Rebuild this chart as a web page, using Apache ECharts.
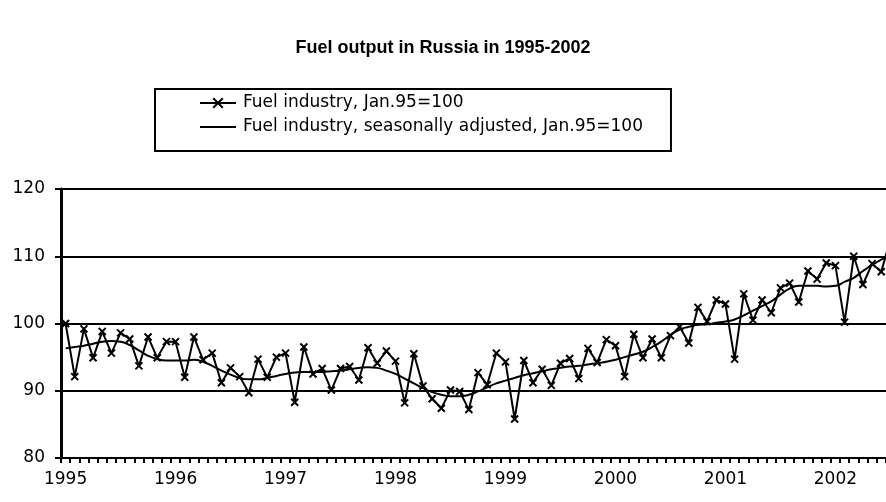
<!DOCTYPE html>
<html><head><meta charset="utf-8">
<script src="https://cdn.jsdelivr.net/npm/echarts@6/dist/echarts.min.js"></script>
<style>html,body{margin:0;padding:0;background:#fff}#c{width:886px;height:502px}</style>
</head><body><div id="c"></div>
<script>
const titleText = "Fuel output in Russia in 1995-2002";
const seriesNames = ["Fuel industry, Jan.95=100", "Fuel industry, seasonally adjusted, Jan.95=100"];
const startYear = 1995;
const monthCount = 91;
const yearLabels = ["1995","1996","1997","1998","1999","2000","2001","2002"];
const fuelIndex = [
 100.0, 92.1, 99.2, 94.9, 98.8, 95.6, 98.6, 97.7, 93.7, 98.0, 94.9, 97.3,
 97.3, 92.0, 98.0, 94.6, 95.6, 91.2, 93.4, 92.1, 89.7, 94.7, 92.0, 95.0,
 95.6, 88.3, 96.5, 92.5, 93.3, 90.1, 93.3, 93.6, 91.6, 96.4, 94.1, 95.9,
 94.4, 88.2, 95.5, 90.7, 88.8, 87.4, 90.1, 89.9, 87.2, 92.7, 90.9, 95.6,
 94.3, 85.8, 94.5, 91.2, 93.2, 90.8, 94.1, 94.8, 91.8, 96.3, 94.2, 97.6,
 96.7, 92.1, 98.4, 94.9, 97.7, 94.9, 98.2, 99.5, 97.1, 102.4, 100.3, 103.5,
 102.9, 94.7, 104.4, 100.5, 103.5, 101.6, 105.3, 106.0, 103.2, 107.8, 106.6, 109.0,
 108.6, 100.2, 110.0, 105.8, 108.9, 107.7, 112.5
];
const fuelAdjusted = [
 96.3, 96.5, 96.7, 97.0, 97.3, 97.4, 97.3, 96.8, 96.0, 95.2, 94.7, 94.5,
 94.5, 94.5, 94.6, 94.3, 93.7, 93.0, 92.4, 91.9, 91.7, 91.7, 91.9, 92.2,
 92.5, 92.7, 92.8, 92.8, 92.8, 92.9, 93.0, 93.2, 93.4, 93.5, 93.4, 93.0,
 92.5, 91.8, 91.1, 90.4, 89.8, 89.4, 89.2, 89.2, 89.4, 89.9, 90.5, 91.1,
 91.5, 91.9, 92.3, 92.6, 92.9, 93.2, 93.4, 93.6, 93.7, 93.9, 94.1, 94.3,
 94.6, 95.0, 95.4, 95.8, 96.5, 97.3, 98.3, 99.1, 99.5, 99.8, 99.9, 100.1,
 100.3, 100.6, 101.2, 101.9, 102.6, 103.3, 104.3, 105.2, 105.6, 105.6, 105.6, 105.5,
 105.6, 106.2, 106.8, 107.8, 108.7, 109.5, 110.2
];
const yMin = 80, yMax = 120, yStep = 10;

const categories = [];
for (let i = 0; i < monthCount; i++) {
  const y = startYear + Math.floor(i / 12), m = i % 12 + 1;
  categories.push(y + "-" + (m < 10 ? "0" + m : m));
}
const FONT = "DejaVu Sans";
const xPath = 'path://M0,0L10,10M10,0L0,10';
const chart = echarts.init(document.getElementById('c'), null, {renderer: 'canvas'});
chart.setOption({
  animation: false,
  backgroundColor: '#fff',
  title: {
    text: titleText, left: 'center', top: 34,
    textStyle: {fontFamily: 'Liberation Sans', fontWeight: 'bold', fontSize: 18, color: '#000'}
  },
  legend: {
    orient: 'vertical', left: 155, top: 89,
    borderColor: '#000', borderWidth: 2,
    padding: [4, 28, 14, 44],
    itemWidth: 36, itemHeight: 12, itemGap: 4,
    textStyle: {fontFamily: FONT, fontSize: 17, lineHeight: 20, color: '#000', padding: [0,0,0,2]},
    data: [
      {name: seriesNames[0]},
      {name: seriesNames[1], icon: 'path://M0,0L36,0L36,2L0,2Z', itemStyle: {color: '#000'}}
    ]
  },
  grid: {left: 61, top: 189, bottom: 44, width: 834, outerBoundsMode: 'none', containLabel: false},
  xAxis: {
    type: 'category', data: categories, boundaryGap: true,
    axisLine: {lineStyle: {color: '#000', width: 2}},
    axisTick: {show: true, interval: 0, length: 5, lineStyle: {color: '#000', width: 2}},
    axisLabel: {
      interval: 11, margin: 13, color: '#000', fontFamily: FONT, fontSize: 17,
      formatter: function (v) { return v.slice(5) === '01' ? yearLabels[+v.slice(0,4) - startYear] : ''; }
    },
    splitLine: {show: false}
  },
  yAxis: {
    type: 'value', min: yMin, max: yMax, interval: yStep,
    axisLine: {show: true, lineStyle: {color: '#000', width: 3}},
    axisTick: {show: true, length: 6, lineStyle: {color: '#000', width: 2}},
    axisLabel: {margin: 16, color: '#000', fontFamily: FONT, fontSize: 17},
    splitLine: {show: true, lineStyle: {color: '#000', width: 2}}
  },
  series: [
    {
      name: seriesNames[0], type: 'line', data: fuelIndex,
      symbol: xPath, symbolSize: 7, showSymbol: true, showAllSymbol: true,
      lineStyle: {color: '#000', width: 2},
      itemStyle: {color: '#000', borderColor: '#000', borderWidth: 2},
      z: 3
    },
    {
      name: seriesNames[1], type: 'line', data: fuelAdjusted,
      smooth: true, symbol: 'none', showSymbol: false,
      lineStyle: {color: '#000', width: 2},
      itemStyle: {color: '#000'},
      z: 2
    }
  ]
});
</script></body></html>
